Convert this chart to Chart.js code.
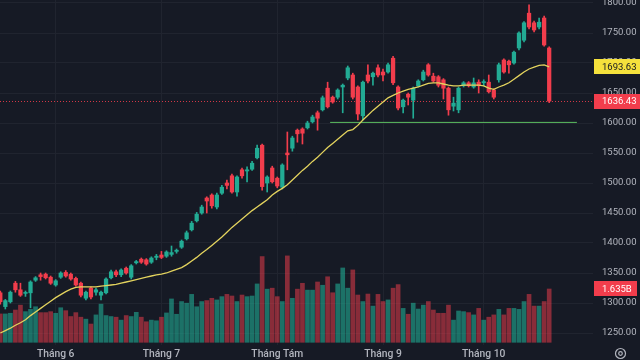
<!DOCTYPE html>
<html><head><meta charset="utf-8">
<script src="https://cdn.jsdelivr.net/npm/chart.js@4.4.1/dist/chart.umd.min.js"></script>
<style>html,body{margin:0;padding:0;background:#161a25;}#wrap{width:640px;height:360px;}</style>
</head><body><div id="wrap"><canvas id="c" width="640" height="360"></canvas></div>
<script>
// ---- data ----
const opens  = [1317,1294,1302,1333,1322,1316,1317,1338,1347,1348,1343,1330,1343,1351,1348,1341,1333,1308,1325,1318,1313,1317,1342,1352,1347,1358,1343,1367,1373,1372,1368,1376,1380,1378,1381,1386,1393,1407,1422,1437,1450,1475,1480,1460,1483,1500,1512,1485,1522,1520,1523,1542,1563,1500,1525,1508,1493,1550,1558,1588,1590,1592,1602,1617,1622,1658,1643,1643,1660,1675,1680,1660,1612,1680,1677,1692,1685,1685,1708,1660,1627,1648,1638,1662,1672,1697,1678,1677,1672,1658,1628,1622,1662,1667,1660,1668,1667,1668,1655,1672,1705,1703,1700,1725,1738,1783,1767,1760,1775,1725];
const highs  = [1320,1306,1320,1336,1333,1320,1337,1344,1350,1350,1345,1339,1352,1354,1350,1343,1335,1320,1327,1325,1320,1342,1355,1355,1357,1360,1364,1371,1375,1374,1377,1381,1386,1387,1395,1390,1405,1420,1436,1451,1463,1477,1482,1483,1496,1505,1515,1512,1525,1527,1536,1563,1565,1512,1528,1510,1532,1585,1578,1590,1592,1603,1613,1620,1645,1668,1645,1657,1665,1695,1683,1662,1670,1697,1685,1697,1690,1700,1711,1662,1640,1650,1660,1672,1688,1699,1683,1679,1674,1660,1643,1660,1669,1669,1675,1672,1672,1680,1657,1700,1707,1705,1720,1752,1769,1797,1770,1775,1778,1727];
const lows   = [1298,1290,1300,1318,1311,1311,1292,1336,1338,1340,1331,1328,1341,1343,1338,1328,1310,1305,1307,1313,1305,1315,1340,1344,1344,1348,1340,1365,1366,1363,1366,1372,1374,1376,1378,1383,1391,1405,1420,1435,1448,1450,1458,1457,1481,1490,1483,1478,1508,1502,1521,1540,1488,1485,1500,1492,1490,1522,1553,1568,1565,1590,1600,1588,1620,1625,1633,1640,1617,1672,1640,1605,1605,1667,1663,1677,1670,1683,1664,1622,1617,1630,1608,1660,1670,1678,1668,1660,1640,1613,1620,1617,1660,1660,1658,1650,1662,1650,1640,1668,1683,1683,1698,1722,1735,1757,1752,1757,1728,1634];
const closes = [1302,1304,1318,1322,1313,1317,1335,1342,1344,1342,1333,1337,1350,1345,1340,1330,1313,1318,1310,1322,1318,1340,1352,1347,1355,1350,1362,1369,1368,1365,1375,1378,1376,1385,1384,1388,1403,1417,1433,1448,1460,1470,1462,1480,1493,1496,1485,1510,1512,1522,1533,1558,1494,1510,1502,1495,1530,1547,1575,1582,1583,1600,1610,1608,1642,1627,1635,1655,1663,1692,1643,1615,1668,1670,1683,1680,1680,1697,1667,1625,1638,1643,1658,1670,1685,1680,1670,1663,1658,1622,1633,1658,1667,1662,1667,1662,1669,1652,1643,1697,1685,1697,1718,1750,1767,1760,1755,1768,1730,1636.43];
const volumes = [0.87,0.87,0.89,0.99,1.14,0.94,1.01,1.09,0.91,0.91,0.94,0.89,1.06,0.97,0.79,0.91,0.77,0.71,0.56,0.84,1.17,0.82,0.79,0.77,0.68,0.82,0.79,0.92,0.77,0.63,0.68,0.66,0.77,0.90,1.33,0.86,1.25,1.20,1.47,1.09,1.25,1.28,1.35,1.30,1.40,1.47,1.42,1.25,1.45,1.40,1.42,1.79,2.63,1.63,1.66,1.40,1.25,2.65,1.35,1.63,1.81,1.60,1.60,1.85,1.75,2.01,1.52,1.79,2.28,1.66,2.22,1.45,1.25,1.48,1.11,1.47,1.25,1.30,1.66,1.77,1.04,0.86,1.20,1.02,1.14,1.25,0.99,0.89,0.89,1.14,0.68,0.96,0.94,0.91,0.84,1.04,0.68,0.77,0.84,1.01,0.84,1.04,1.04,1.01,1.25,1.47,1.11,1.11,1.25,1.635];
const maValues = [1250,1254,1258,1263,1267,1272,1279,1285,1291,1297,1303,1309,1314,1319,1323,1326,1327,1327,1327,1327,1328,1329,1330,1331,1333,1335,1337,1339,1341,1343,1345,1347,1348,1350,1353,1356,1359,1364,1370,1376,1383,1389,1396,1403,1410,1418,1426,1433,1440,1447,1454,1460,1466,1472,1480,1486,1491,1497,1505,1513,1521,1528,1536,1543,1551,1559,1566,1573,1580,1587,1589,1596,1605,1613,1621,1628,1635,1642,1646,1650,1653,1656,1658,1660,1663,1666,1667,1667,1665,1663,1662,1662,1663,1663,1663,1663,1662,1658,1656,1660,1663,1667,1673,1679,1685,1690,1693,1696,1697,1693.63];
const monthIdx    = [11,32,55,76,96];
const monthLabels = ['Tháng 6','Tháng 7','Tháng Tám','Tháng 9','Tháng 10'];
const priceTicks  = [1250,1300,1350,1400,1450,1500,1550,1600,1650,1700,1750,1800];
const supportLevel = 1601, supportFrom = 65.5, supportTo = 114.5;

// ---- styles ----
const BG='#161a25', UP='#22ab94', DOWN='#f23d4c', UPV='rgba(34,171,148,0.6)', DNV='rgba(242,61,76,0.52)';
const TXT='#b2b5be', GRID='#20242f';
const up = closes.map((c,i)=>c>=opens[i]);

const bgPlugin={id:'bg',beforeDraw(ch){const c=ch.ctx;c.save();c.fillStyle=BG;c.fillRect(0,0,ch.width,ch.height);c.restore();},
 beforeDatasetsDraw(ch){const c=ch.ctx,y=ch.scales.y.getPixelForValue(closes[closes.length-1]),a=ch.chartArea;
  c.save();c.strokeStyle='rgba(242,61,76,0.85)';c.lineWidth=1;c.setLineDash([1,2]);c.beginPath();c.moveTo(a.left,Math.round(y)+0.5);c.lineTo(a.right,Math.round(y)+0.5);c.stroke();c.restore();},
 afterDraw(ch){const c=ch.ctx;c.save();
  function box(val,txt,fill,col,scale,w){const y=ch.scales[scale].getPixelForValue(val);c.fillStyle=fill;c.fillRect(594,Math.round(y-7.5),w,15);
   c.fillStyle=col;c.font='9.5px Roboto';c.textBaseline='middle';c.textAlign='left';c.fillText(txt,602,y+0.5);}
  box(maValues[maValues.length-1],maValues[maValues.length-1].toFixed(2),'#f5e13c','#131722','y',46);
  box(closes[closes.length-1],closes[closes.length-1].toFixed(2),'#f23d4c','#ffffff','y',46);
  box(volumes[volumes.length-1],volumes[volumes.length-1].toFixed(3)+'B','#f23d4c','#ffffff','y2',43);
  c.strokeStyle=TXT;c.lineWidth=1.2;c.beginPath();c.arc(620.5,353.5,5,0,Math.PI*2);c.stroke();
  c.beginPath();c.arc(620.5,353.5,1.8,0,Math.PI*2);c.stroke();c.restore();}};

new Chart(document.getElementById('c'),{
 type:'bar',
 data:{datasets:[
  {type:'line',data:maValues.map((v,i)=>({x:i,y:v})),borderColor:'#e3d35e',borderWidth:1.3,pointRadius:0,tension:0,order:1,yAxisID:'y'},
  {type:'line',data:[{x:supportFrom,y:supportLevel},{x:supportTo,y:supportLevel}],borderColor:'#5cbf60',borderWidth:1,pointRadius:0,order:2,yAxisID:'y'},
  {data:opens.map((o,i)=>({x:i,y:[o,closes[i]]})),backgroundColor:up.map(u=>u?UP:DOWN),barThickness:3.6,minBarLength:1,grouped:false,order:3,yAxisID:'y'},
  {data:lows.map((l,i)=>({x:i,y:[l,highs[i]]})),backgroundColor:up.map(u=>u?UP:DOWN),barThickness:1,grouped:false,order:4,yAxisID:'y'},
  {data:volumes.map((v,i)=>({x:i,y:v})),backgroundColor:up.map(u=>u?UPV:DNV),barThickness:4,grouped:false,order:5,yAxisID:'y2'}
 ]},
 options:{responsive:false,animation:false,devicePixelRatio:1,
  layout:{padding:0},
  plugins:{legend:{display:false},tooltip:{enabled:false}},
  scales:{
   x:{type:'linear',min:-0.06,max:117.7,offset:false,position:'bottom',
      grid:{color:GRID,offset:false,drawTicks:false},border:{display:false},
      afterBuildTicks(s){s.ticks=monthIdx.map(v=>({value:v}));},
      ticks:{color:TXT,font:{family:'Roboto',size:10.3,weight:'500'},padding:3,maxRotation:0,autoSkip:false,
        callback:(v)=>monthLabels[monthIdx.indexOf(v)]},
      afterFit(s){s.height=15;s.paddingLeft=0;s.paddingRight=0;}},
   y:{type:'linear',position:'right',min:1230,max:1805,
      grid:{color:GRID,drawTicks:false},border:{display:false},
      afterBuildTicks(s){s.ticks=priceTicks.map(v=>({value:v}));},
      ticks:{color:TXT,font:{family:'Roboto',size:9.5},padding:9,callback:(v)=>Number(v).toFixed(2)},
      afterFit(s){s.width=47;s.paddingTop=0;s.paddingBottom=0;}},
   y2:{type:'linear',display:false,min:-0.083,max:10.5}
  }},
 plugins:[bgPlugin]
});
</script></body></html>
